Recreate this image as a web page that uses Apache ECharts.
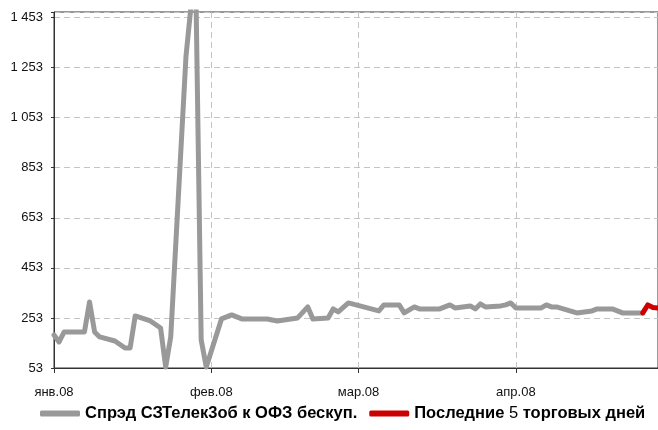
<!DOCTYPE html>
<html>
<head>
<meta charset="utf-8">
<script src="https://cdn.jsdelivr.net/npm/echarts@6/dist/echarts.min.js"></script>
<style>
  html, body { margin: 0; background: #fff; }
  #chart { width: 658px; height: 430px; }
</style>
</head>
<body>
<div id="chart"></div>
<script>
// spread, bp
const spreadDates = [
  '2008-01-01', '2008-01-02', '2008-01-03', '2008-01-07', '2008-01-08', '2008-01-09',
  '2008-01-10', '2008-01-13', '2008-01-15', '2008-01-16', '2008-01-17', '2008-01-20',
  '2008-01-22', '2008-01-23', '2008-01-24', '2008-01-27', '2008-01-28', '2008-01-29',
  '2008-01-30', '2008-01-31', '2008-02-03', '2008-02-05', '2008-02-07', '2008-02-12',
  '2008-02-14', '2008-02-18', '2008-02-20', '2008-02-21', '2008-02-24', '2008-02-25',
  '2008-02-26', '2008-02-28', '2008-03-02', '2008-03-05', '2008-03-06', '2008-03-09',
  '2008-03-10', '2008-03-12', '2008-03-13', '2008-03-17', '2008-03-19', '2008-03-20',
  '2008-03-23', '2008-03-24', '2008-03-25', '2008-03-26', '2008-03-29', '2008-03-30',
  '2008-03-31', '2008-04-01', '2008-04-06', '2008-04-07', '2008-04-08', '2008-04-09',
  '2008-04-13', '2008-04-16', '2008-04-17', '2008-04-20', '2008-04-22', '2008-04-26'
];
const spreadValues = [
  185, 157, 197, 197, 317, 197,
  177, 161, 133, 133, 261, 241,
  213, 57, 177, 1297, 1500, 1500,
  165, 57, 249, 265, 249, 249,
  241, 253, 297, 249, 253, 289,
  277, 313, 297, 281, 305, 305,
  273, 297, 289, 289, 305, 293,
  301, 289, 309, 297, 301, 305,
  313, 293, 293, 305, 297, 297,
  273, 281, 289, 289, 273, 273
];
// last 5 trading days
const lastDates = ['2008-04-26', '2008-04-27', '2008-04-28', '2008-04-29'];
const lastValues = [273, 305, 295, 293];

const monthLabels = ['янв', 'фев', 'мар', 'апр', 'май', 'июн', 'июл', 'авг', 'сен', 'окт', 'ноя', 'дек'];
const yTickValues = [53, 253, 453, 653, 853, 1053, 1253, 1453];

const seriesNames = ['Спрэд СЗТелек3об к ОФЗ бескуп.', 'Последние 5 торговых дней'];

const font = "'Liberation Sans', Arial, sans-serif";
const DAY = 86400000;

const chart = echarts.init(document.getElementById('chart'));

chart.setOption({
  animation: false,
  textStyle: { fontFamily: font },
  grid: {
    left: 54, right: 0, top: 12, bottom: 62,
    show: true, borderColor: '#333', borderWidth: 1
  },
  legend: {
    bottom: 3,
    left: 35,
    itemWidth: 40,
    itemHeight: 6,
    itemGap: 12,
    icon: 'roundRect',
    data: seriesNames,
    formatter: name => name === seriesNames[1]
      ? '{b|Последние }{n|5}{b| торговых дней}'
      : '{b|' + name + '}',
    textStyle: {
      fontFamily: font,
      fontSize: 16.5,
      color: '#000',
      rich: {
        b: { fontFamily: font, fontSize: 16.5, fontWeight: 'bold', color: '#000' },
        n: { fontFamily: font, fontSize: 16.5, fontWeight: 'normal', color: '#000' }
      }
    }
  },
  xAxis: {
    type: 'time',
    min: '2008-01-01',
    max: '2008-04-29',
    minInterval: 28 * DAY,
    maxInterval: 31 * DAY,
    axisLine: { lineStyle: { color: '#333', width: 1 } },
    axisTick: { show: true, length: 5, lineStyle: { color: '#333' } },
    axisLabel: {
      color: '#111',
      fontSize: 13,
      margin: 18,
      showMaxLabel: false,
      formatter: value => {
        const d = new Date(value);
        return monthLabels[d.getMonth()] + '.' + String(d.getFullYear()).slice(2);
      }
    },
    splitLine: { show: true, lineStyle: { color: '#c4c4c4', type: [6, 4] } }
  },
  yAxis: {
    type: 'value',
    min: 53,
    max: 1475,
    interval: 200,
    axisLine: { show: true, lineStyle: { color: '#333', width: 1 } },
    axisTick: { show: true, length: 3, lineStyle: { color: '#333' } },
    axisLabel: {
      color: '#111',
      fontSize: 13,
      margin: 11,
      formatter: value => yTickValues.includes(value)
        ? String(value).replace(/\B(?=(\d{3})+(?!\d))/g, ' ')
        : ''
    },
    splitLine: { show: true, lineStyle: { color: '#c4c4c4', type: [6, 4] } }
  },
  series: [
    {
      name: seriesNames[0],
      type: 'line',
      showSymbol: false,
      clip: true,
      color: '#999999',
      lineStyle: { width: 5, color: '#999999', join: 'round', cap: 'round' },
      data: spreadDates.map((d, i) => [d, spreadValues[i]])
    },
    {
      name: seriesNames[1],
      type: 'line',
      showSymbol: false,
      clip: true,
      color: '#cc0000',
      lineStyle: { width: 5, color: '#cc0000', join: 'round', cap: 'round' },
      data: lastDates.map((d, i) => [d, lastValues[i]])
    }
  ]
});
</script>
</body>
</html>
